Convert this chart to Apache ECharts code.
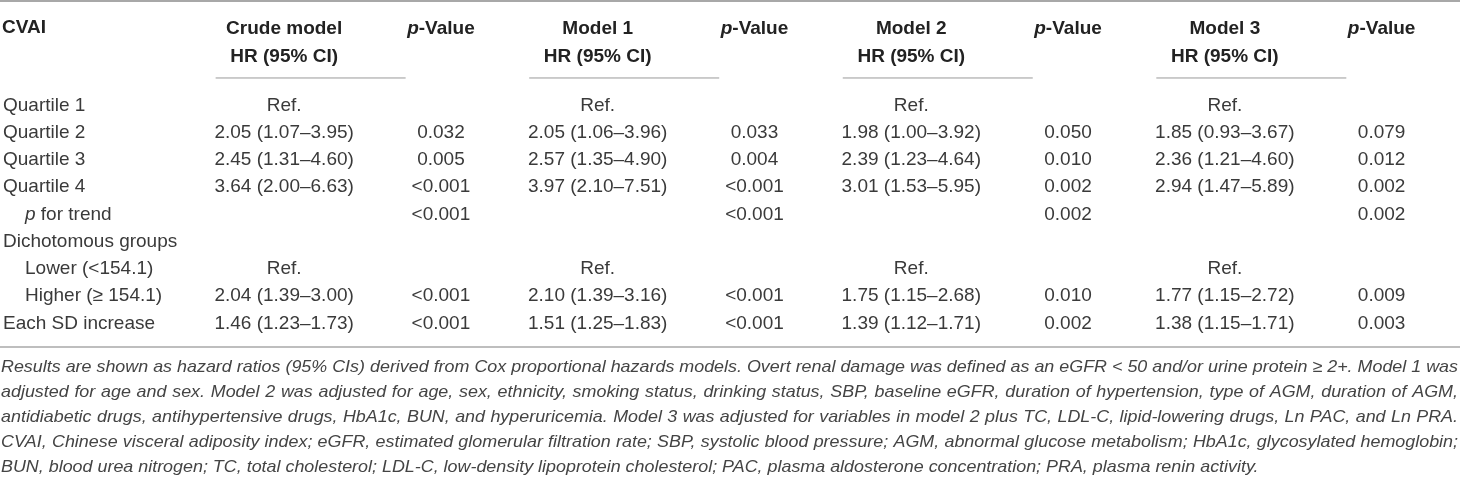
<!DOCTYPE html>
<html>
<head>
<meta charset="utf-8">
<script src="https://cdn.jsdelivr.net/npm/echarts@6/dist/echarts.min.js"></script>
<style>
html,body{margin:0;padding:0;background:#fff;}
#c{width:1460px;height:482px;}
</style>
</head>
<body>
<div id="c"></div>
<script>
// ---- data ----
const rowLabels = ['Quartile 1','Quartile 2','Quartile 3','Quartile 4','p for trend','Dichotomous groups','Lower (<154.1)','Higher (≥ 154.1)','Each SD increase'];
const rowIndent = [0,0,0,0,1,0,1,1,0];
const headerTop = ['Crude model','p-Value','Model 1','p-Value','Model 2','p-Value','Model 3','p-Value'];
const headerSub = ['HR (95% CI)','','HR (95% CI)','','HR (95% CI)','','HR (95% CI)',''];
const crudeHR  = ['Ref.','2.05 (1.07–3.95)','2.45 (1.31–4.60)','3.64 (2.00–6.63)','','','Ref.','2.04 (1.39–3.00)','1.46 (1.23–1.73)'];
const crudeP   = ['','0.032','0.005','<0.001','<0.001','','','<0.001','<0.001'];
const model1HR = ['Ref.','2.05 (1.06–3.96)','2.57 (1.35–4.90)','3.97 (2.10–7.51)','','','Ref.','2.10 (1.39–3.16)','1.51 (1.25–1.83)'];
const model1P  = ['','0.033','0.004','<0.001','<0.001','','','<0.001','<0.001'];
const model2HR = ['Ref.','1.98 (1.00–3.92)','2.39 (1.23–4.64)','3.01 (1.53–5.95)','','','Ref.','1.75 (1.15–2.68)','1.39 (1.12–1.71)'];
const model2P  = ['','0.050','0.010','0.002','0.002','','','0.010','0.002'];
const model3HR = ['Ref.','1.85 (0.93–3.67)','2.36 (1.21–4.60)','2.94 (1.47–5.89)','','','Ref.','1.77 (1.15–2.72)','1.38 (1.15–1.71)'];
const model3P  = ['','0.079','0.012','0.002','0.002','','','0.009','0.003'];
const footnotes = [
 'Results are shown as hazard ratios (95% CIs) derived from Cox proportional hazards models. Overt renal damage was defined as an eGFR < 50 and/or urine protein ≥ 2+. Model 1 was',
 'adjusted for age and sex. Model 2 was adjusted for age, sex, ethnicity, smoking status, drinking status, SBP, baseline eGFR, duration of hypertension, type of AGM, duration of AGM,',
 'antidiabetic drugs, antihypertensive drugs, HbA1c, BUN, and hyperuricemia. Model 3 was adjusted for variables in model 2 plus TC, LDL-C, lipid-lowering drugs, Ln PAC, and Ln PRA.',
 'CVAI, Chinese visceral adiposity index; eGFR, estimated glomerular filtration rate; SBP, systolic blood pressure; AGM, abnormal glucose metabolism; HbA1c, glycosylated hemoglobin;',
 'BUN, blood urea nitrogen; TC, total cholesterol; LDL-C, low-density lipoprotein cholesterol; PAC, plasma aldosterone concentration; PRA, plasma renin activity.'
];

// ---- build ----
const FONT = '"Liberation Sans", Arial, Helvetica, sans-serif';
const FS = 19;
const BODY = '#3a3a3a';
const HEAD = '#222';
const dataCols = [crudeHR, crudeP, model1HR, model1P, model2HR, model2P, model3HR, model3P];
const colKeys = headerTop.map((_, i) => 'c' + i);
const cells = [];
dataCols.forEach((col, c) => col.forEach((t, r) => { if (t) cells.push({ value: [c, r], text: t }); }));
const hrCols = headerSub.map((s, i) => s ? [i, 0] : null).filter(Boolean);

const rowH = 27.25;
const firstRow = 105.5;
const colW = 162.5;
const firstCol = 286;
const gridLeft = firstCol - colW / 2;
const gridTop = firstRow - rowH / 2;

const rich = {
  b:  { fontFamily: FONT, fontSize: FS, fontWeight: 'bold', color: HEAD, lineHeight: 28 },
  bi: { fontFamily: FONT, fontSize: FS, fontWeight: 'bold', fontStyle: 'italic', color: HEAD, lineHeight: 28 },
  n:  { fontFamily: FONT, fontSize: FS, color: BODY },
  ni: { fontFamily: FONT, fontSize: FS, color: BODY, fontStyle: 'italic' },
  ind:  { fontFamily: FONT, fontSize: FS, color: BODY, padding: [0, 0, 0, 22] },
  indi: { fontFamily: FONT, fontSize: FS, color: BODY, fontStyle: 'italic', padding: [0, 0, 0, 22] }
};

function headerFmt(v, i) {
  const top = headerTop[i];
  const l1 = top.indexOf('p-') === 0 ? '{bi|p}{b|' + top.slice(1) + '}' : '{b|' + top + '}';
  const l2 = headerSub[i] ? '{b|' + headerSub[i] + '}' : '{b| }';
  return l1 + '\n' + l2;
}
function rowFmt(v, i) {
  const t = rowLabels[i];
  if (t.indexOf('p ') === 0) return '{indi|p}{n|' + t.slice(1) + '}';
  return rowIndent[i] ? '{ind|' + t + '}' : '{n|' + t + '}';
}

// footnote: justified lines (word-by-word) with one common glyph scale
const mctx = document.createElement('canvas').getContext('2d');
const FN_FS = 17;
const fnFont = 'italic ' + FN_FS + 'px ' + FONT;
mctx.font = fnFont;
const FN_LEFT = 1, FN_RIGHT = 1458;
const fitScales = footnotes.slice(0, -1).map(t => (FN_RIGHT - FN_LEFT) / mctx.measureText(t).width);
const glyphScale = Math.min.apply(null, fitScales);
const spaceW = mctx.measureText(' ').width * glyphScale;
const fnGraphics = [];
footnotes.forEach((line, li) => {
  const words = line.split(' ');
  const ws = words.map(w => mctx.measureText(w).width * glyphScale);
  const sum = ws.reduce((a, b) => a + b, 0);
  const last = li === footnotes.length - 1;
  const gap = last ? spaceW : (FN_RIGHT - FN_LEFT - sum) / (words.length - 1);
  let x = FN_LEFT;
  words.forEach((w, wi) => {
    fnGraphics.push({
      type: 'text', x: x, y: 367 + li * 25, scaleX: glyphScale, silent: true,
      style: { text: w, font: fnFont, fill: '#444', textVerticalAlign: 'middle', textAlign: 'left' }
    });
    x += ws[wi] + gap;
  });
});

const chart = echarts.init(document.getElementById('c'), null, { renderer: 'canvas' });
chart.setOption({
  animation: false,
  backgroundColor: '#fff',
  grid: { left: gridLeft, top: gridTop, width: colW * 8, height: rowH * 9 },
  xAxis: {
    type: 'category', position: 'top', data: colKeys,
    axisLine: { show: false }, axisTick: { show: false }, splitLine: { show: false },
    axisLabel: { interval: 0, margin: 21, formatter: headerFmt, rich: rich, align: 'center' }
  },
  yAxis: {
    type: 'category', inverse: true, data: rowLabels,
    axisLine: { show: false }, axisTick: { show: false }, splitLine: { show: false },
    axisLabel: { interval: 0, align: 'left', margin: gridLeft - 2, formatter: rowFmt, rich: rich }
  },
  series: [
    {
      type: 'custom', clip: false, silent: true,
      data: cells.map(d => d.value),
      encode: { x: 0, y: 1 },
      renderItem: function (params, api) {
        const p = api.coord([api.value(0), api.value(1)]);
        return {
          type: 'text', x: p[0], y: p[1],
          style: { text: cells[params.dataIndex].text, font: FS + 'px ' + FONT, fill: BODY, textAlign: 'center', textVerticalAlign: 'middle' }
        };
      }
    },
    {
      type: 'custom', clip: false, silent: true,
      data: hrCols,
      encode: { x: 0, y: 1 },
      renderItem: function (params, api) {
        const p = api.coord([api.value(0), 0]);
        const bw = api.size([1, 1]);
        const y = p[1] - bw[1] * 1.01;
        return {
          type: 'line',
          shape: { x1: p[0] - bw[0] * 0.437, y1: y, x2: p[0] + bw[0] * 0.775, y2: y },
          style: { stroke: '#9a9a9a', lineWidth: 1 }
        };
      }
    }
  ],
  graphic: [
    { type: 'line', silent: true, shape: { x1: 0, y1: 1, x2: 1460, y2: 1 }, style: { stroke: '#a8a8a8', lineWidth: 2 } },
    { type: 'line', silent: true, shape: { x1: 0, y1: 347, x2: 1460, y2: 347 }, style: { stroke: '#a8a8a8', lineWidth: 1.5 } },
    { type: 'text', silent: true, x: 2, y: 28, style: { text: 'CVAI', font: 'bold ' + FS + 'px ' + FONT, fill: HEAD, textVerticalAlign: 'middle' } }
  ].concat(fnGraphics)
});
</script>
</body>
</html>
